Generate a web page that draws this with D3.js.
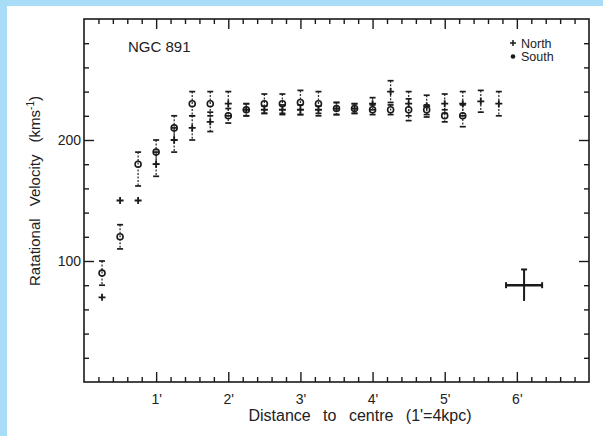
<!DOCTYPE html>
<html><head><meta charset="utf-8">
<script src="https://cdn.jsdelivr.net/npm/d3@7"></script>
<style>
html,body{margin:0;padding:0;background:#fff;}
svg{display:block;}
text{font-family:"Liberation Sans",Arial,sans-serif;fill:#222;}
</style></head>
<body>
<svg id="chart" width="603" height="436"></svg>
<script>
// ---- data ----
const radius = [0.25,0.5,0.75,1.0,1.25,1.5,1.75,2.0,2.25,2.5,2.75,3.0,3.25,3.5,3.75,4.0,4.25,4.5,4.75,5.0,5.25,5.5,5.75];
const northVel   = [70,150,150,180,200,210,215,230,225,225,225,225,225,226,226,230,240,230,228,230,230,232,230];
const northErrLo = [0,0,0,10,10,10,8,10,5,3,4,4,3,5,4,5,9,10,9,8,10,9,10];
const northErrHi = [0,0,0,10,10,10,8,10,5,3,4,4,3,5,4,5,9,10,9,8,10,9,10];
const southVel   = [90,120,180,190,210,230,230,220,225,230,230,231,230,226,226,225,225,225,225,220,220,null,null];
const southErrLo = [10,10,18,10,10,10,10,6,5,8,8,10,10,5,4,4,4,9,4,5,9,0,0];
const southErrHi = [10,10,10,10,10,10,10,6,5,8,8,10,10,5,4,4,4,9,4,5,9,0,0];
const xMajorTicks = [1,2,3,4,5,6];
const xTickLabels = ["1'","2'","3'","4'","5'","6'"];
const yMajorTicks = [100,200];
const yTickLabels = ["100","200"];
const typicalError = {x:6.1, y:80, dx:0.25, dy:13};
const titleText = "NGC 891";
const legendLabels = ["North","South"];
const xTitle = "Distance to centre (1'=4kpc)";

// ---- layout ----
const svg = d3.select("#chart");
const L = 84, R = 589, T = 19, B = 382;
const x = d3.scaleLinear().domain([0,7]).range([L,R]);
const y = d3.scaleLinear().domain([0,300]).range([B,T]);
const ink = "#1a1a1a";

// blue border
svg.append("rect").attr("x",0).attr("y",0).attr("width",603).attr("height",6).attr("fill","#a9dcf6");
svg.append("rect").attr("x",0).attr("y",0).attr("width",7).attr("height",436).attr("fill","#a9dcf6");

// frame
svg.append("rect").attr("x",L).attr("y",T).attr("width",R-L).attr("height",B-T)
  .attr("fill","none").attr("stroke",ink).attr("stroke-width",1.6);

const xMinor = d3.range(1,35).map(i=>i*0.2).filter(v=>!xMajorTicks.some(m=>Math.abs(m-v)<1e-6));
const yMinor = d3.range(1,15).map(i=>i*20).filter(v=>!yMajorTicks.includes(v));

function styleAxis(g){
  g.select(".domain").remove();
  g.selectAll(".tick line").attr("stroke",ink).attr("stroke-width",1.4);
  g.selectAll("text").style("font-size","14px").attr("fill","#222");
}
// bottom
svg.append("g").attr("transform",`translate(0,${B})`)
  .call(d3.axisBottom(x).tickValues(xMajorTicks).tickSizeInner(-10).tickSizeOuter(0).tickPadding(12)
    .tickFormat((d,i)=>xTickLabels[i])).call(styleAxis);
svg.append("g").attr("transform",`translate(0,${B})`)
  .call(d3.axisBottom(x).tickValues(xMinor).tickSizeInner(-5).tickSizeOuter(0).tickFormat("")).call(styleAxis);
// top
svg.append("g").attr("transform",`translate(0,${T})`)
  .call(d3.axisTop(x).tickValues(xMajorTicks).tickSizeInner(-10).tickSizeOuter(0).tickFormat("")).call(styleAxis);
svg.append("g").attr("transform",`translate(0,${T})`)
  .call(d3.axisTop(x).tickValues(xMinor).tickSizeInner(-5).tickSizeOuter(0).tickFormat("")).call(styleAxis);
// left
svg.append("g").attr("transform",`translate(${L},0)`)
  .call(d3.axisLeft(y).tickValues(yMajorTicks).tickSizeInner(-10).tickSizeOuter(0).tickPadding(3)
    .tickFormat((d,i)=>yTickLabels[i])).call(styleAxis);
svg.append("g").attr("transform",`translate(${L},0)`)
  .call(d3.axisLeft(y).tickValues(yMinor).tickSizeInner(-5).tickSizeOuter(0).tickFormat("")).call(styleAxis);
// right
svg.append("g").attr("transform",`translate(${R},0)`)
  .call(d3.axisRight(y).tickValues(yMajorTicks).tickSizeInner(-10).tickSizeOuter(0).tickFormat("")).call(styleAxis);
svg.append("g").attr("transform",`translate(${R},0)`)
  .call(d3.axisRight(y).tickValues(yMinor).tickSizeInner(-5).tickSizeOuter(0).tickFormat("")).call(styleAxis);

// axis titles
svg.append("text").attr("x",360).attr("y",421).attr("text-anchor","middle")
  .style("font-size","16px").style("word-spacing","8px").text(xTitle);
const yt = svg.append("text").attr("transform","translate(40,191) rotate(-90)").attr("text-anchor","middle")
  .style("font-size","15px").style("word-spacing","8px");
yt.append("tspan").text("Ratational Velocity (kms");
yt.append("tspan").attr("dy",-6).style("font-size","10px").text("-1");
yt.append("tspan").attr("dy",6).text(")");

// title
svg.append("text").attr("x",128).attr("y",52).style("font-size","15px").text(titleText);

// error bars
const pts = [];
radius.forEach((r,i)=>{
  pts.push({r, v:northVel[i], lo:northErrLo[i], hi:northErrHi[i], s:"N"});
  if (southVel[i]!=null) pts.push({r, v:southVel[i], lo:southErrLo[i], hi:southErrHi[i], s:"S"});
});
const eb = svg.append("g");
pts.filter(p=>p.lo>0||p.hi>0).forEach(p=>{
  const cx = x(p.r), y1 = y(p.v+p.hi), y2 = y(p.v-p.lo);
  eb.append("line").attr("x1",cx).attr("x2",cx).attr("y1",y1).attr("y2",y2)
    .attr("stroke","#333").attr("stroke-width",1.3).attr("stroke-dasharray","2,1.5");
  [y1,y2].forEach(yy=>eb.append("line").attr("x1",cx-3).attr("x2",cx+3).attr("y1",yy).attr("y2",yy)
    .attr("stroke",ink).attr("stroke-width",1.7));
});
// markers
const mk = svg.append("g");
pts.filter(p=>p.s==="S").forEach(p=>{
  mk.append("circle").attr("cx",x(p.r)).attr("cy",y(p.v)).attr("r",3)
    .attr("fill","none").attr("stroke",ink).attr("stroke-width",1.6);
});
pts.filter(p=>p.s==="N").forEach(p=>{
  const cx=x(p.r), cy=y(p.v);
  mk.append("path").attr("d",`M${cx-3.5},${cy}H${cx+3.5}M${cx},${cy-3.5}V${cy+3.5}`)
    .attr("stroke",ink).attr("stroke-width",1.8);
});

// typical error cross
const te = svg.append("g").attr("stroke",ink).attr("stroke-width",2);
const tx = x(typicalError.x), ty = y(typicalError.y);
const hx1 = x(typicalError.x-typicalError.dx), hx2 = x(typicalError.x+typicalError.dx);
const vy1 = y(typicalError.y+typicalError.dy), vy2 = y(typicalError.y-typicalError.dy);
te.append("line").attr("x1",hx1).attr("x2",hx2).attr("y1",ty).attr("y2",ty).attr("stroke-width",2.4);
te.append("line").attr("x1",tx).attr("x2",tx).attr("y1",vy1).attr("y2",vy2);
te.append("line").attr("x1",hx1).attr("x2",hx1).attr("y1",ty-3).attr("y2",ty+3);
te.append("line").attr("x1",hx2).attr("x2",hx2).attr("y1",ty-3).attr("y2",ty+3);
te.append("line").attr("x1",tx-3).attr("x2",tx+3).attr("y1",vy1).attr("y2",vy1);

// legend
const lg = svg.append("g");
lg.append("path").attr("d","M510,43H516M513,40V46").attr("stroke",ink).attr("stroke-width",1.5);
lg.append("circle").attr("cx",513).attr("cy",56.5).attr("r",2.3).attr("fill",ink);
lg.append("text").attr("x",521).attr("y",48).style("font-size","12.5px").text(legendLabels[0]);
lg.append("text").attr("x",521).attr("y",61).style("font-size","12.5px").text(legendLabels[1]);
</script>
</body></html>
